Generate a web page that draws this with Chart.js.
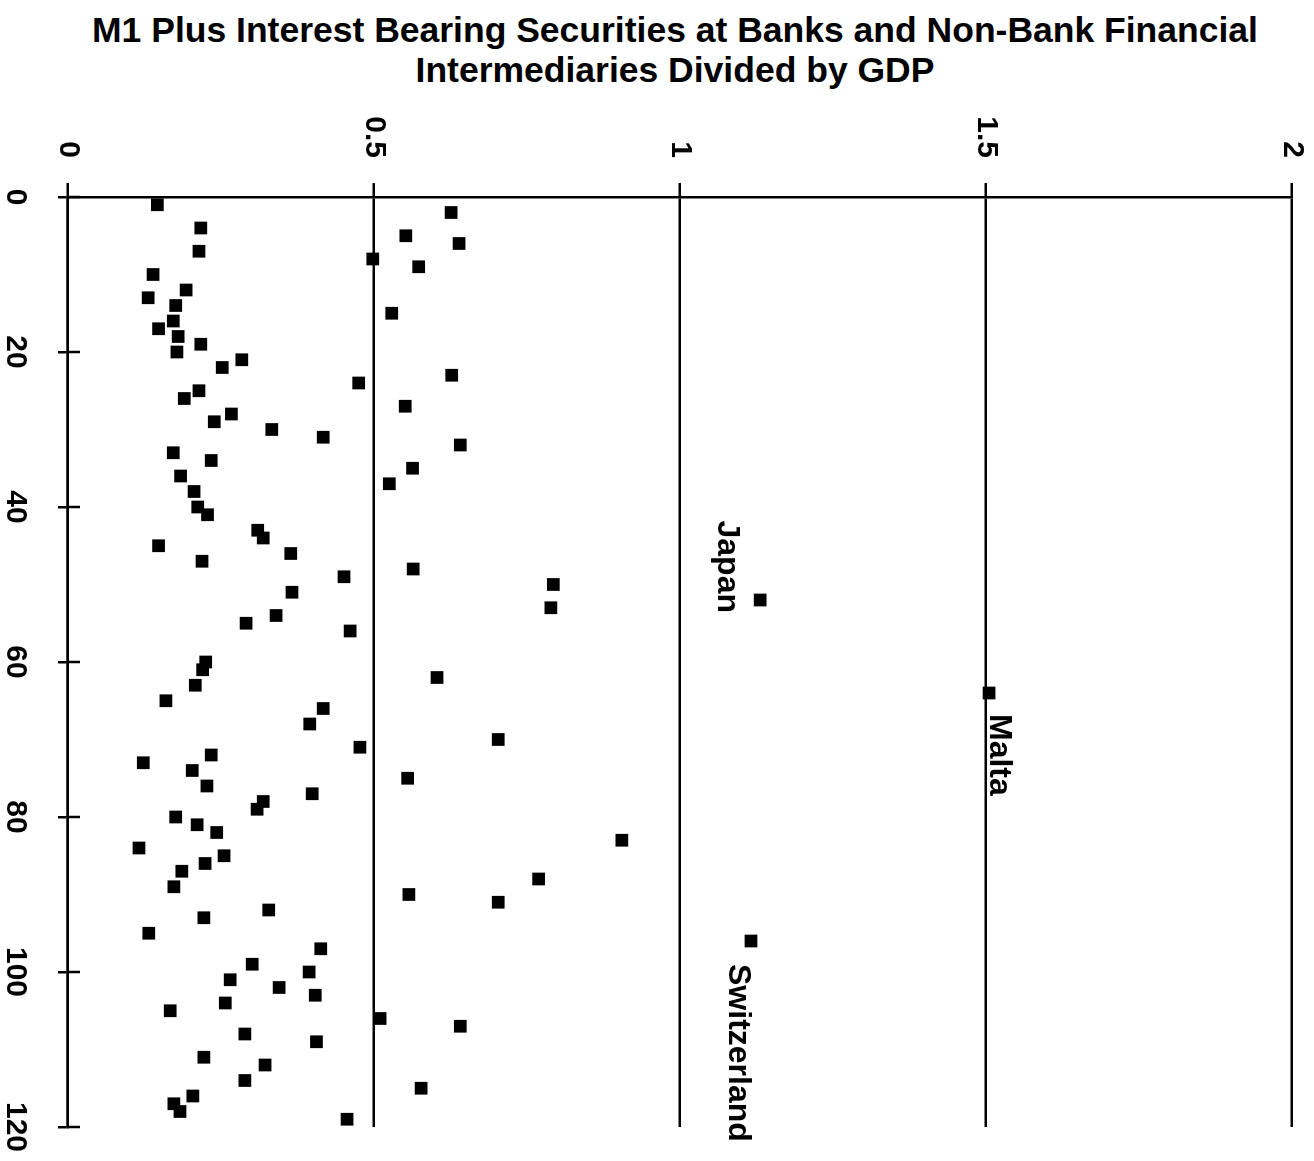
<!DOCTYPE html>
<html>
<head>
<meta charset="utf-8">
<script src="https://cdn.jsdelivr.net/npm/chart.js@4/dist/chart.umd.min.js"></script>
<style>
  html, body { margin: 0; padding: 0; background: #fff; }
  body { width: 1314px; height: 1161px; position: relative; overflow: hidden; }
  #title {
    position: absolute; left: 36px; top: 10px; width: 1278px;
    text-align: center; color: #000;
    font: bold 35.5px/40px "Liberation Sans", Arial, sans-serif;
  }
  /* The plot is laid out landscape and turned a quarter clockwise onto the page */
  #plot {
    position: absolute; left: 0; top: 95px; width: 1066px; height: 1314px;
    transform-origin: 0 0; transform: translateX(1314px) rotate(90deg);
  }
</style>
</head>
<body>
<div id="title">M1 Plus Interest Bearing Securities at Banks and Non-Bank Financial<br>Intermediaries Divided by GDP</div>
<div id="plot"><canvas id="c" width="1066" height="1314"></canvas></div>
<script>
// Country number (0-120) and its ratio of M1 plus interest-bearing securities to GDP
const countryIndex = [
  1, 2, 4, 5, 6, 7, 8, 9, 10, 12, 13, 14, 15, 16, 17, 18, 19, 20,
  21, 22, 23, 24, 25, 26, 27, 28, 29, 30, 31, 32, 33, 34, 35, 36, 37, 38,
  40, 41, 43, 44, 45, 46, 47, 48, 49, 50, 51, 52, 53, 54, 55, 56,
  60, 61, 62, 63, 64, 65, 66, 68, 70, 71, 72, 73, 74, 75, 76, 77, 78, 79,
  80, 81, 82, 83, 84, 85, 86, 87, 88, 89, 90, 91, 92, 93, 95, 96, 97, 99,
  100, 101, 102, 103, 104, 105, 106, 107, 108, 109, 111, 112, 114, 115,
  116, 117, 118, 119
];
const ratio = [
  0.146, 0.626, 0.217, 0.552, 0.639, 0.214, 0.498, 0.573, 0.139, 0.193, 0.131, 0.176, 0.529, 0.172, 0.148, 0.180, 0.217, 0.178,
  0.284, 0.252, 0.627, 0.475, 0.214, 0.190, 0.551, 0.267, 0.239, 0.333, 0.417, 0.641, 0.172, 0.234, 0.563, 0.184, 0.525, 0.206,
  0.212, 0.228, 0.310, 0.319, 0.148, 0.364, 0.219, 0.564, 0.451, 0.793, 0.366, 1.131, 0.789, 0.340, 0.291, 0.461,
  0.225, 0.220, 0.603, 0.208, 1.505, 0.160, 0.417, 0.395, 0.703, 0.477, 0.234, 0.123, 0.203, 0.555, 0.227, 0.399, 0.319, 0.309,
  0.176, 0.211, 0.243, 0.905, 0.116, 0.255, 0.224, 0.186, 0.769, 0.173, 0.557, 0.703, 0.328, 0.222, 0.132, 1.116, 0.413, 0.301,
  0.394, 0.265, 0.345, 0.404, 0.257, 0.167, 0.510, 0.641, 0.289, 0.406, 0.222, 0.322, 0.289, 0.577,
  0.204, 0.173, 0.183, 0.456
];
const labelledCountries = ['Japan', 'Malta', 'Switzerland'];
const labelledIndex = [52, 64, 96];
const indexTicks = [0, 20, 40, 60, 80, 100, 120];
const ratioTicks = [0, 0.5, 1, 1.5, 2];

const points = countryIndex.map((x, i) => ({ x: x, y: ratio[i] }));

const INK = '#000';
const FONT = '"Liberation Sans", Arial, sans-serif';

// Where each country name sits next to its marker (in the unrotated plot frame)
const labelPlacement = {
  Japan: { align: 'right', dx: 13, dy: 33 },
  Malta: { align: 'left', dx: 21, dy: -10 },
  Switzerland: { align: 'left', dx: 23, dy: 13 }
};

// Short tick marks reaching into the plot along the index axis
const innerTicks = {
  id: 'innerTicks',
  afterDraw(chart) {
    const xs = chart.scales.x;
    const area = chart.chartArea;
    const ctx = chart.ctx;
    ctx.save();
    ctx.strokeStyle = INK;
    ctx.lineWidth = 2.5;
    indexTicks.forEach(v => {
      const px = xs.getPixelForValue(v);
      ctx.beginPath();
      ctx.moveTo(px, area.bottom);
      ctx.lineTo(px, area.bottom - 12);
      ctx.stroke();
    });
    ctx.restore();
  }
};

// Names written beside the outlying countries
const countryLabels = {
  id: 'countryLabels',
  afterDatasetsDraw(chart) {
    const meta = chart.getDatasetMeta(0);
    const ctx = chart.ctx;
    ctx.save();
    ctx.fillStyle = INK;
    ctx.font = 'bold 32px ' + FONT;
    ctx.textBaseline = 'middle';
    labelledCountries.forEach((name, k) => {
      const i = countryIndex.indexOf(labelledIndex[k]);
      const pt = meta.data[i];
      const o = labelPlacement[name];
      ctx.textAlign = o.align;
      ctx.fillText(name, pt.x + o.dx, pt.y + o.dy);
    });
    ctx.restore();
  }
};

new Chart(document.getElementById('c'), {
  type: 'scatter',
  data: {
    datasets: [{
      data: points,
      pointStyle: 'rect',
      pointRadius: 9,
      pointHoverRadius: 9,
      backgroundColor: INK,
      borderColor: INK,
      borderWidth: 0
    }]
  },
  options: {
    responsive: false,
    animation: false,
    devicePixelRatio: 1,
    layout: { padding: { left: 0, right: 34, top: 22, bottom: 0 } },
    plugins: {
      legend: { display: false },
      tooltip: { enabled: false },
      title: { display: false }
    },
    scales: {
      x: {
        type: 'linear',
        position: 'bottom',
        min: 0, max: 120,
        afterBuildTicks: s => { s.ticks = indexTicks.map(v => ({ value: v })); },
        ticks: {
          color: INK, padding: 25, maxRotation: 0, minRotation: 0, autoSkip: false,
          callback: v => String(v),
          font: { family: FONT, size: 30, weight: 'bold' }
        },
        grid: { drawOnChartArea: false, drawTicks: true, tickLength: 10, color: INK, lineWidth: 2.5 },
        border: { display: true, color: INK, width: 2.5 },
        // fixed band for the index axis; the layout padding already leaves room for the end labels
        afterFit: s => { s.height = 68; s.paddingLeft = 0; s.paddingRight = 0; }
      },
      y: {
        type: 'linear',
        position: 'left',
        min: 0, max: 2,
        afterBuildTicks: s => { s.ticks = ratioTicks.map(v => ({ value: v })); },
        ticks: {
          color: INK, padding: 25,
          callback: v => String(v),
          font: { family: FONT, size: 30, weight: 'bold' }
        },
        grid: { drawOnChartArea: true, drawTicks: true, tickLength: 14, color: INK, lineWidth: 2.5 },
        border: { display: true, color: INK, width: 2.5 },
        afterFit: s => { s.width = 102; s.paddingTop = 0; s.paddingBottom = 0; }
      }
    }
  },
  plugins: [innerTicks, countryLabels]
});
</script>
</body>
</html>
